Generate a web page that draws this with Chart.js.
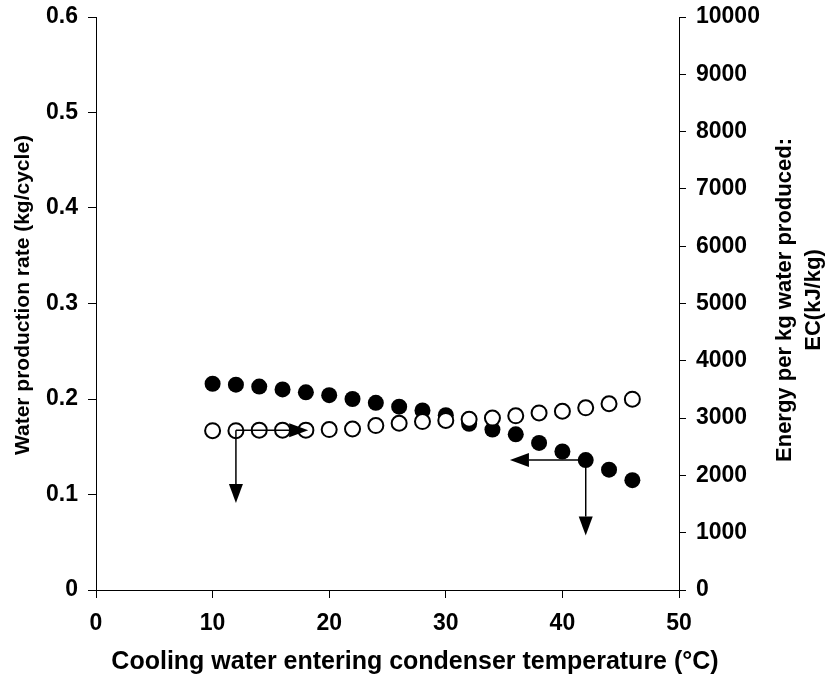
<!DOCTYPE html>
<html>
<head>
<meta charset="utf-8">
<script src="https://cdn.jsdelivr.net/npm/chart.js@4/dist/chart.umd.min.js"></script>
<style>
    body { margin: 0; background: #fff; }
    #wrap { width: 829px; height: 681px; }
</style>
</head>
<body>
<div id="wrap"><canvas id="chart" width="829" height="681"></canvas></div>
<script>
// cooling water temperature (°C)
const temperatures = [10, 12, 14, 16, 18, 20, 22, 24, 26, 28, 30, 32, 34, 36, 38, 40, 42, 44, 46];
// water production rate (kg/cycle), filled circles, left axis
const productionRate = [0.216, 0.215, 0.213, 0.210, 0.207, 0.204, 0.200, 0.196, 0.192, 0.188, 0.183,
    0.174, 0.168, 0.163, 0.154, 0.145, 0.136, 0.126, 0.115];
// energy per kg water (kJ/kg), open circles, right axis
const energyPerKg = [2780, 2780, 2790, 2790, 2790, 2800, 2810, 2870, 2910, 2940, 2960, 2980, 3000,
    3040, 3090, 3120, 3180, 3250, 3330];

const xTicks = [0, 10, 20, 30, 40, 50];
const leftTicks = [0, 0.1, 0.2, 0.3, 0.4, 0.5, 0.6];
const rightTicks = [0, 1000, 2000, 3000, 4000, 5000, 6000, 7000, 8000, 9000, 10000];

// arrows pointing to the axis each series belongs to (data units)
const energyArrowRight = [[12, 2790], [18.2, 2790]];
const energyArrowDown = [[12, 2790], [12, 1520]];
const rateArrowLeft = [[42, 0.136], [35.5, 0.136]];
const rateArrowDown = [[42, 0.136], [42, 0.057]];

const xTitle = 'Cooling water entering condenser temperature (°C)';
const leftTitle = 'Water production rate (kg/cycle)';
const rightTitle = ['Energy per kg water produced:', 'EC(kJ/kg)'];

const FONT = '"Liberation Sans", Arial, sans-serif';

function toPoints(xs, ys) {
    return xs.map((x, i) => ({ x: x, y: ys[i] }));
}

/////////////////// Arrows + axis titles ///////////////////
function drawArrow(ctx, x1, y1, x2, y2) {
    const ang = Math.atan2(y2 - y1, x2 - x1);
    const len = 19, half = 7;
    const bx = x2 - len * Math.cos(ang), by = y2 - len * Math.sin(ang);
    ctx.beginPath();
    ctx.moveTo(x1, y1);
    ctx.lineTo(bx, by);
    ctx.stroke();
    ctx.beginPath();
    ctx.moveTo(x2, y2);
    ctx.lineTo(bx + half * Math.sin(ang), by - half * Math.cos(ang));
    ctx.lineTo(bx - half * Math.sin(ang), by + half * Math.cos(ang));
    ctx.closePath();
    ctx.fill();
}

const extras = {
    id: 'extras',
    afterDatasetsDraw(chart) {
        const ctx = chart.ctx;
        const sx = chart.scales.x;
        ctx.save();
        ctx.strokeStyle = '#000';
        ctx.fillStyle = '#000';
        ctx.lineWidth = 1.5;
        [[energyArrowRight, 'y1'], [energyArrowDown, 'y1'], [rateArrowLeft, 'y'], [rateArrowDown, 'y']].forEach(a => {
            const sy = chart.scales[a[1]];
            const p = a[0];
            drawArrow(ctx, sx.getPixelForValue(p[0][0]), sy.getPixelForValue(p[0][1]),
                sx.getPixelForValue(p[1][0]), sy.getPixelForValue(p[1][1]));
        });
        ctx.restore();
    },
    afterDraw(chart) {
        const ctx = chart.ctx;
        ctx.save();
        ctx.fillStyle = '#000';
        ctx.textAlign = 'center';
        ctx.textBaseline = 'middle';

        ctx.font = 'bold 25px ' + FONT;
        ctx.fillText(xTitle, 415, 662);

        ctx.font = 'bold 21px ' + FONT;
        ctx.save();
        ctx.translate(23, 295);
        ctx.rotate(-Math.PI / 2);
        ctx.fillText(leftTitle, 0, 0);
        ctx.restore();

        ctx.font = 'bold 22px ' + FONT;
        ctx.save();
        ctx.translate(785, 300);
        ctx.rotate(-Math.PI / 2);
        ctx.fillText(rightTitle[0], 0, 0);
        ctx.fillText(rightTitle[1], 0, 29);
        ctx.restore();
        ctx.restore();
    }
};

// drop the automatic label overhang so the plot box sits where the original one does
function noPad(s) {
    s.paddingTop = 0;
    s.paddingBottom = 0;
    s.paddingLeft = 0;
    s.paddingRight = 0;
}

document.addEventListener('DOMContentLoaded', function () {
    const tickFont = { family: FONT, size: 23, weight: 'bold' };
    const axisLine = { display: true, color: '#000', width: 1 };

    new Chart(document.getElementById('chart'), {
        type: 'scatter',
        data: {
            datasets: [{
                label: 'Water production rate',
                data: toPoints(temperatures, productionRate),
                yAxisID: 'y',
                pointStyle: 'circle',
                pointRadius: 8,
                pointBackgroundColor: '#000',
                pointBorderColor: '#000',
                pointBorderWidth: 0,
                order: 2
            }, {
                label: 'Energy per kg water',
                data: toPoints(temperatures, energyPerKg),
                yAxisID: 'y1',
                pointStyle: 'circle',
                pointRadius: 7.5,
                pointBackgroundColor: '#fff',
                pointBorderColor: '#000',
                pointBorderWidth: 2,
                order: 1
            }]
        },
        options: {
            responsive: false,
            animation: false,
            layout: { padding: { top: 17, left: 0, right: 0, bottom: 0 } },
            plugins: {
                legend: { display: false },
                tooltip: { enabled: false }
            },
            scales: {
                x: {
                    type: 'linear',
                    min: 0, max: 50,
                    afterBuildTicks: s => { s.ticks = xTicks.map(v => ({ value: v })); },
                    afterFit: s => { s.height = 91; noPad(s); },
                    ticks: { color: '#000', font: tickFont, padding: 12 },
                    grid: { drawOnChartArea: false, drawTicks: true, tickLength: 8, color: '#000' },
                    border: axisLine
                },
                y: {
                    type: 'linear',
                    position: 'left',
                    min: 0, max: 0.6,
                    afterBuildTicks: s => { s.ticks = leftTicks.map(v => ({ value: v })); },
                    afterFit: s => { s.width = 96; noPad(s); },
                    ticks: {
                        color: '#000', font: tickFont, padding: 10,
                        callback: v => v === 0 ? '0' : v.toFixed(1)
                    },
                    grid: { drawOnChartArea: false, drawTicks: true, tickLength: 8, color: '#000' },
                    border: axisLine
                },
                y1: {
                    type: 'linear',
                    position: 'right',
                    min: 0, max: 10000,
                    afterBuildTicks: s => { s.ticks = rightTicks.map(v => ({ value: v })); },
                    afterFit: s => { s.width = 150; noPad(s); },
                    ticks: { color: '#000', font: tickFont, padding: 10, callback: v => String(v) },
                    grid: { drawOnChartArea: false, drawTicks: true, tickLength: 7, color: '#000' },
                    border: axisLine
                }
            }
        },
        plugins: [extras]
    });
});
</script>
</body>
</html>
